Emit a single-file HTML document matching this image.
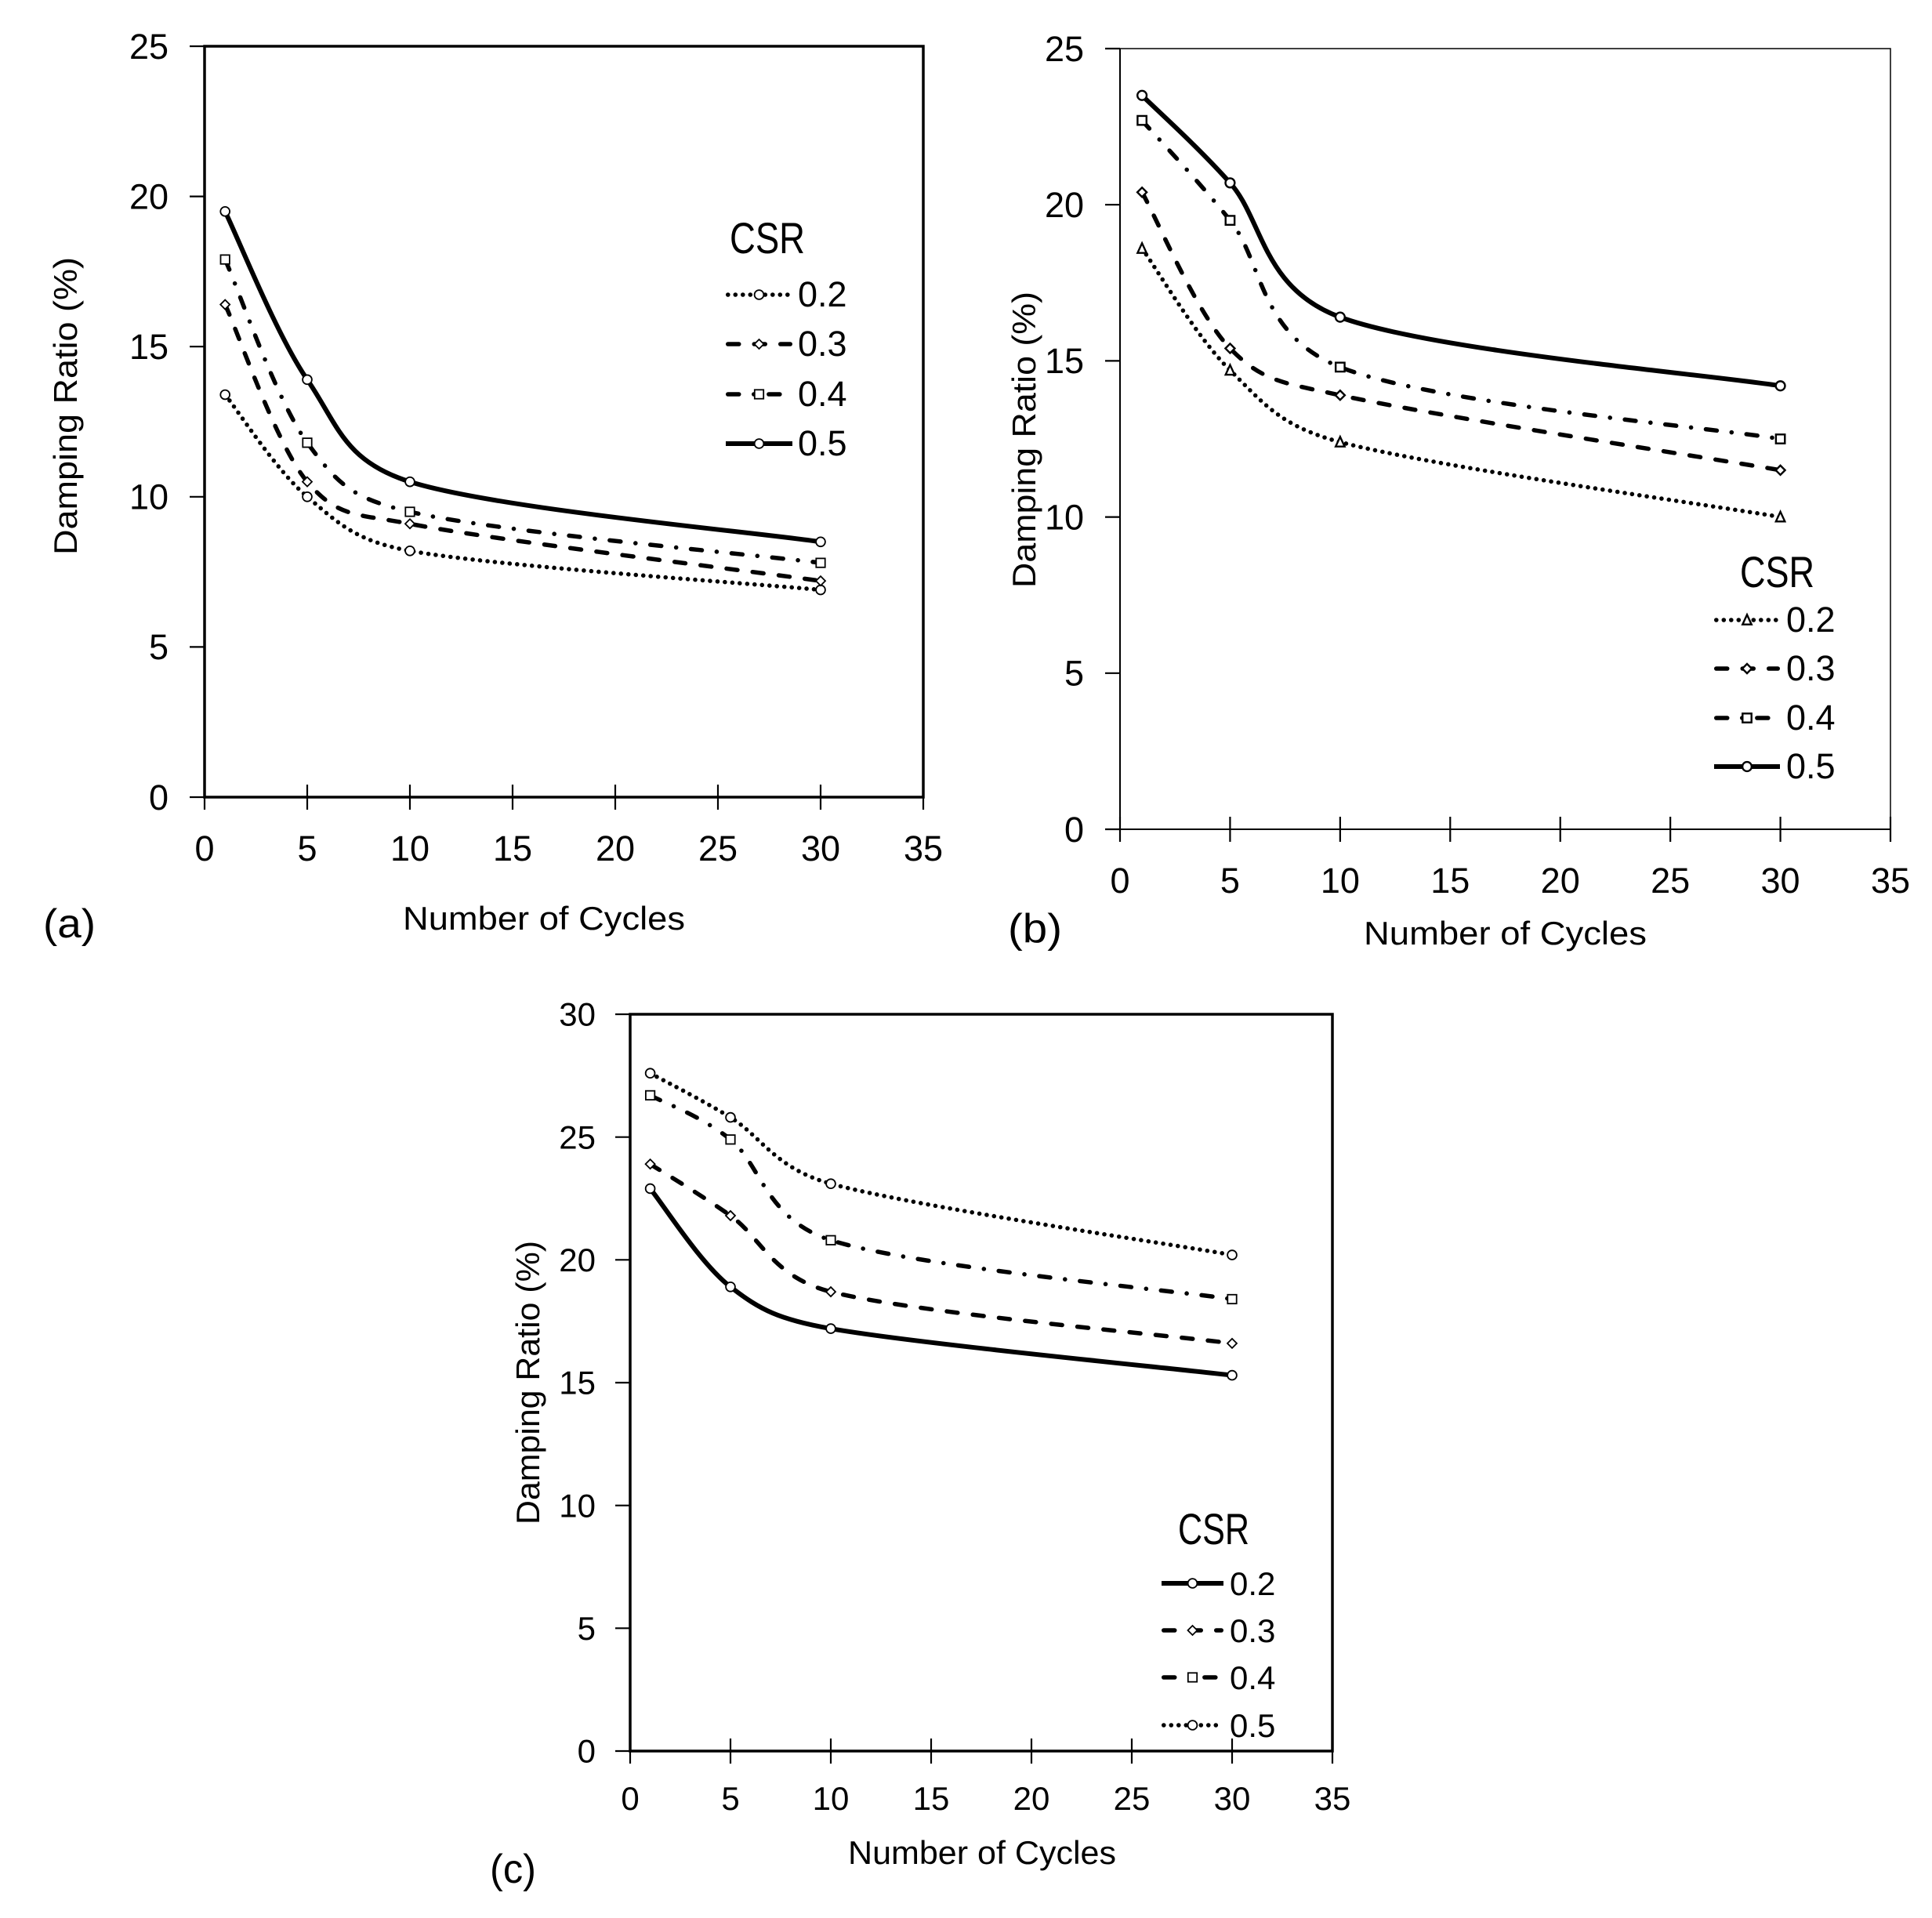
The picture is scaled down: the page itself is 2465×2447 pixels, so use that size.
<!DOCTYPE html>
<html lang="en">
<head>
<meta charset="utf-8">
<title>Damping Ratio vs Number of Cycles</title>
<style>
html,body{margin:0;padding:0;background:#fff;}
svg{display:block;}
text{font-family:"Liberation Sans",sans-serif;fill:#000;}
</style>
</head>
<body>
<svg id="figure" xmlns="http://www.w3.org/2000/svg" width="2465" height="2447" viewBox="0 0 2465 2447"></svg>
<script>
const cycles = [1, 5, 10, 30];
const csrLabels = ['0.2', '0.3', '0.4', '0.5'];
const xTickValues = [0, 5, 10, 15, 20, 25, 30, 35];
const yTicksAB = [0, 5, 10, 15, 20, 25];
const yTicksC = [0, 5, 10, 15, 20, 25, 30];

const panelA02 = [13.4, 10.0, 8.2, 6.9];
const panelA03 = [16.4, 10.5, 9.1, 7.2];
const panelA04 = [17.9, 11.8, 9.5, 7.8];
const panelA05 = [19.5, 13.9, 10.5, 8.5];

const panelB02 = [18.6, 14.7, 12.4, 10.0];
const panelB03 = [20.4, 15.4, 13.9, 11.5];
const panelB04 = [22.7, 19.5, 14.8, 12.5];
const panelB05 = [23.5, 20.7, 16.4, 14.2];

const panelC02 = [22.9, 18.9, 17.2, 15.3];
const panelC03 = [23.9, 21.8, 18.7, 16.6];
const panelC04 = [26.7, 24.9, 20.8, 18.4];
const panelC05 = [27.6, 25.8, 23.1, 20.2];

const NS = 'http://www.w3.org/2000/svg';
const root = document.getElementById('figure');

function mk(parent, tag, attrs, txt) {
  const el = document.createElementNS(NS, tag);
  for (const k in attrs) el.setAttribute(k, attrs[k]);
  if (txt !== undefined) el.textContent = txt;
  parent.appendChild(el);
  return el;
}

const STYLES = {
  dotted: {dash: '0.1 9.4', cap: 'round', width: 5.5},
  dashed: {dash: '14 19.5', cap: 'round', width: 5.5},
  dashdot: {dash: '14 19 0.1 19', cap: 'round', width: 5.5},
  solid: {dash: 'none', cap: 'butt', width: 6}
};

const SMOOTH_LIMIT = 0.48;

function limitVec(vx, vy, maxLen) {
  const len = Math.hypot(vx, vy);
  if (len <= maxLen || len === 0) return [vx, vy];
  return [vx * maxLen / len, vy * maxLen / len];
}

function smoothPath(pts) {
  let d = 'M' + pts[0][0] + ' ' + pts[0][1];
  for (let i = 0; i < pts.length - 1; i++) {
    const p0 = pts[Math.max(i - 1, 0)];
    const p1 = pts[i];
    const p2 = pts[i + 1];
    const p3 = pts[Math.min(i + 2, pts.length - 1)];
    const seg = Math.hypot(p2[0] - p1[0], p2[1] - p1[1]);
    const t1 = limitVec((p2[0] - p0[0]) / 6, (p2[1] - p0[1]) / 6, seg * SMOOTH_LIMIT);
    const t2 = limitVec((p3[0] - p1[0]) / 6, (p3[1] - p1[1]) / 6, seg * SMOOTH_LIMIT);
    d += ' C' + (p1[0] + t1[0]) + ' ' + (p1[1] + t1[1]) + ' ' + (p2[0] - t2[0]) + ' ' + (p2[1] - t2[1]) + ' ' + p2[0] + ' ' + p2[1];
  }
  return d;
}

function drawMarker(g, kind, x, y, sw) {
  const common = {fill: '#fff', stroke: '#000', 'stroke-width': sw};
  let el;
  if (kind === 'circle') {
    el = mk(g, 'circle', Object.assign({cx: x, cy: y, r: 5.9}, common));
  } else if (kind === 'diamond') {
    const r = 6;
    el = mk(g, 'polygon', Object.assign({points: [x, y - r, x + r, y, x, y + r, x - r, y].join(' ')}, common));
  } else if (kind === 'square') {
    const r = 5.7;
    el = mk(g, 'rect', Object.assign({x: x - r, y: y - r, width: 2 * r, height: 2 * r}, common));
  } else {
    const r = 5.7;
    el = mk(g, 'polygon', Object.assign({points: [x, y - r - 1, x + r, y + r, x - r, y + r].join(' ')}, common));
  }
  return el;
}

function drawPanel(cfg) {
  const g = mk(root, 'g', {});
  
  

  const xScale = v => cfg.x0 + v * (cfg.x1 - cfg.x0) / 35;
  const yScale = v => cfg.y0 + v * (cfg.y1 - cfg.y0) / cfg.yMax;

  const frame = mk(g, 'rect', {x: cfg.x0, y: cfg.y1, width: cfg.x1 - cfg.x0, height: cfg.y0 - cfg.y1, fill: 'none', stroke: '#000', 'stroke-width': cfg.frame});
  
  

  const xAxis = mk(g, 'line', {x1: cfg.x0, x2: cfg.x1, y1: cfg.y0, y2: cfg.y0, stroke: '#000', 'stroke-width': cfg.axis});
  
  
  const yAxis = mk(g, 'line', {x1: cfg.x0, x2: cfg.x0, y1: cfg.y1, y2: cfg.y0, stroke: '#000', 'stroke-width': cfg.axis});
  
  

  xTickValues.forEach(v => {
    const t = mk(g, 'line', {x1: xScale(v), x2: xScale(v), y1: cfg.y0 - 16, y2: cfg.y0 + 16, stroke: '#000', 'stroke-width': 2.2});
    
    
    const l = mk(g, 'text', {x: xScale(v), y: cfg.xLabelY, 'text-anchor': 'middle', 'font-size': cfg.tickFont}, String(v));
    
    
  });

  cfg.yTicks.forEach(v => {
    const t = mk(g, 'line', {x1: cfg.x0 - 19, x2: cfg.x0, y1: yScale(v), y2: yScale(v), stroke: '#000', 'stroke-width': 2.2});
    
    
    const l = mk(g, 'text', {x: cfg.yLabelX, y: yScale(v) + cfg.tickFont * 0.35, 'text-anchor': 'end', 'font-size': cfg.tickFont}, String(v));
    
    
  });

  const xt = mk(g, 'text', {x: cfg.xTitle[0], y: cfg.xTitle[2], 'font-size': 42, textLength: cfg.xTitle[1] - cfg.xTitle[0], lengthAdjust: 'spacingAndGlyphs'}, 'Number of Cycles');
  
  

  const yt = mk(g, 'text', {transform: 'translate(' + cfg.yTitle[2] + ' ' + cfg.yTitle[1] + ') rotate(-90)', x: 0, y: 0, 'font-size': 42, textLength: cfg.yTitle[1] - cfg.yTitle[0], lengthAdjust: 'spacingAndGlyphs'}, 'Damping Ratio (%)');
  
  

  const tag = mk(g, 'text', {x: cfg.tag[0], y: cfg.tag[2], 'font-size': 52, textLength: cfg.tag[1] - cfg.tag[0], lengthAdjust: 'spacingAndGlyphs'}, '(' + cfg.id + ')');
  
  

  cfg.series.forEach((values, i) => {
    const sg = mk(g, 'g', {});
    
    
    const st = STYLES[cfg.styles[i]];
    const pts = cycles.map((c, k) => [xScale(c), yScale(values[k])]);
    const line = mk(sg, 'path', {d: smoothPath(pts), fill: 'none', stroke: '#000', 'stroke-width': st.width, 'stroke-dasharray': st.dash, 'stroke-linecap': st.cap});
    
    
    pts.forEach(p => {
      const m = drawMarker(sg, cfg.markers[i], p[0], p[1], cfg.markerStroke);
      
      
    });
  });

  const lg = mk(g, 'g', {});
  
  
  const lt = mk(lg, 'text', {x: cfg.csr[0], y: cfg.csr[2], 'font-size': 56, textLength: cfg.csr[1] - cfg.csr[0], lengthAdjust: 'spacingAndGlyphs'}, 'CSR');
  
  

  csrLabels.forEach((label, i) => {
    const e = mk(lg, 'g', {});
    
    
    const st = STYLES[cfg.styles[i]];
    const y = cfg.legendY[i];
    const inset = st.cap === 'round' ? 2.75 : 0;
    const ln = mk(e, 'line', {x1: cfg.legendX[0] + inset, x2: cfg.legendX[1] - inset, y1: y, y2: y, stroke: '#000', 'stroke-width': st.width, 'stroke-dasharray': st.dash, 'stroke-linecap': st.cap});
    
    
    const mark = drawMarker(e, cfg.markers[i], (cfg.legendX[0] + cfg.legendX[1]) / 2, y, cfg.markerStroke);
    
    
    const tx = mk(e, 'text', {x: cfg.legendX[2], y: y + 15, 'font-size': cfg.tickFont}, label);
    
    
  });
}

drawPanel({
  id: 'a', x0: 261, x1: 1178, y0: 1017, y1: 59, yMax: 25, frame: 3.5, axis: 3, markerStroke: 1.8, yTicks: yTicksAB, tickFont: 45,
  xLabelY: 1098, yLabelX: 215,
  xTitle: [514, 874, 1186], yTitle: [328, 708, 98], tag: [55, 122, 1196],
  series: [panelA02, panelA03, panelA04, panelA05],
  styles: ['dotted', 'dashed', 'dashdot', 'solid'],
  markers: ['circle', 'diamond', 'square', 'circle'],
  csr: [931, 1027, 323], legendX: [926, 1011, 1018], legendY: [376, 439, 503, 566]
});
drawPanel({
  id: 'b', x0: 1429, x1: 2412, y0: 1058, y1: 62, yMax: 25, frame: 1.5, axis: 2, markerStroke: 2.4, yTicks: yTicksAB, tickFont: 45,
  xLabelY: 1139, yLabelX: 1383,
  xTitle: [1740, 2101, 1205], yTitle: [372, 750, 1321], tag: [1286, 1355, 1202],
  series: [panelB02, panelB03, panelB04, panelB05],
  styles: ['dotted', 'dashed', 'dashdot', 'solid'],
  markers: ['triangle', 'diamond', 'square', 'circle'],
  csr: [2220, 2315, 749], legendX: [2187, 2271, 2279], legendY: [791, 853, 916, 978]
});
drawPanel({
  id: 'c', x0: 804, x1: 1700, y0: 2234, y1: 1294, yMax: 30, frame: 3.5, axis: 3, markerStroke: 1.8, yTicks: yTicksC, tickFont: 42,
  xLabelY: 2309, yLabelX: 760,
  xTitle: [1082, 1424, 2378], yTitle: [1583, 1945, 688], tag: [625, 684, 2402],
  series: [panelC02, panelC03, panelC04, panelC05],
  styles: ['solid', 'dashed', 'dashdot', 'dotted'],
  markers: ['circle', 'diamond', 'square', 'circle'],
  csr: [1503, 1594, 1970], legendX: [1482, 1561, 1569], legendY: [2020, 2080, 2140, 2201]
});
</script>
</body>
</html>
